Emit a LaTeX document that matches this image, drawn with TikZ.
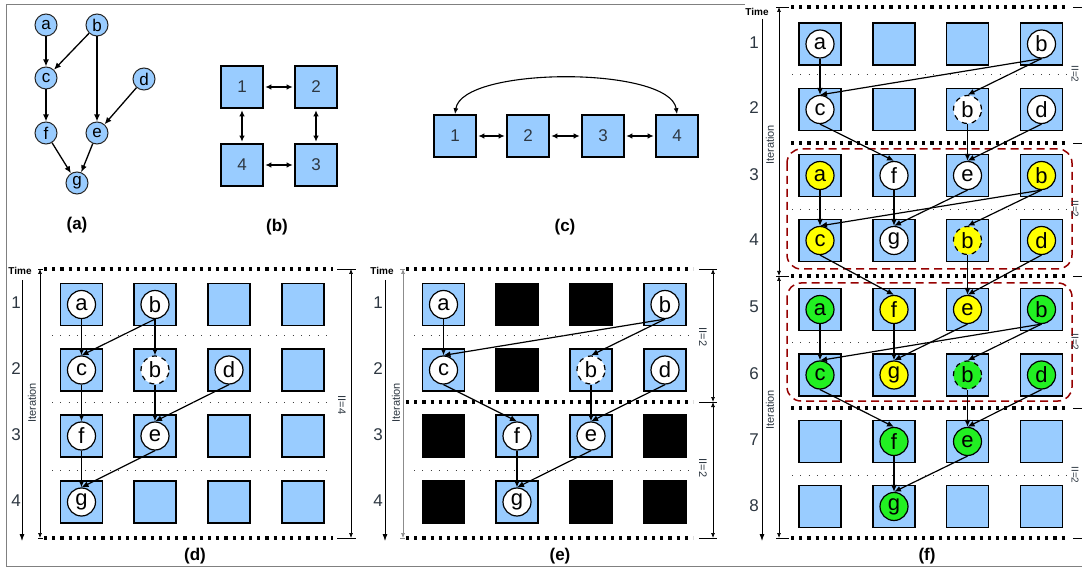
\documentclass[tikz,border=0pt]{standalone}
\usepackage{fontspec}
\setmainfont{Liberation Sans}
\usetikzlibrary{arrows.meta}
\definecolor{sqblue}{RGB}{153,204,255}
\definecolor{nyellow}{RGB}{255,255,0}
\definecolor{ngreen}{RGB}{34,240,34}
\definecolor{boxred}{RGB}{150,0,0}
\definecolor{framegray}{RGB}{128,128,128}
\definecolor{numgray}{RGB}{45,55,65}
\begin{document}
\begin{tikzpicture}[x=1pt,y=-1pt,
  sq/.style={draw=black,line width=1.6pt,fill=sqblue,minimum size=42pt,inner sep=0pt},
  blk/.style={fill=black,minimum size=43.6pt,inner sep=0pt},
  op/.style={circle,draw=black,line width=1.2pt,fill=white,minimum size=28pt,inner sep=0pt,font=\fontsize{22}{22}\selectfont},
  opd/.style={op,dash pattern=on 5pt off 5pt},
  gn/.style={circle,draw=black!85,line width=1pt,fill=sqblue,minimum size=22pt,inner sep=0pt,font=\fontsize{17}{17}\selectfont},
  pe/.style={draw=black,line width=1.6pt,fill=sqblue,minimum size=42pt,inner sep=0pt,text=numgray,font=\fontsize{17}{17}\selectfont},
  arr/.style={-{Latex[length=7pt,width=6pt]},line width=1.2pt},
  dbl/.style={{Latex[length=6pt,width=5.5pt]}-{Latex[length=6pt,width=5.5pt]},line width=1.6pt,shorten >=1.5pt,shorten <=1.5pt},
  arc2/.style={{Latex[length=6pt,width=5pt]}-{Latex[length=6pt,width=5pt]},line width=1.1pt},
  thickdot/.style={line width=3.2pt,dash pattern=on 3.2pt off 5pt},
  thindot/.style={line width=0.8pt,dash pattern=on 0.8pt off 7.5pt,black!75},
  tick/.style={line width=0.7pt},
  dimarr/.style={{Latex[length=5pt,width=4pt]}-{Latex[length=5pt,width=4pt]},line width=0.7pt},
  timearr/.style={-{Latex[length=7pt,width=5pt]},line width=0.8pt},
  lbl/.style={font=\bfseries\fontsize{17}{17}\selectfont},
  timelbl/.style={font=\bfseries\fontsize{10}{10}\selectfont},
  rowlbl/.style={font=\fontsize{17}{17}\selectfont,text=numgray},
  sidelbl/.style={font=\fontsize{11}{11}\selectfont,text=numgray,rotate=90},
  iilbl/.style={font=\fontsize{11}{11}\selectfont,text=numgray,rotate=-90},
  redbox/.style={draw=boxred,line width=1.5pt,dash pattern=on 8pt off 5pt,rounded corners=14pt}
]
\useasboundingbox (0,0) rectangle (1082,569);
\clip (0,0) rectangle (1082,569);
\fill[white] (0,0) rectangle (1082,569);
% frame
\draw[framegray,line width=1pt] (745,5) -- (6,5) -- (6,566) -- (1082,566);

% ---------------- (a)
\node[gn] (ga) at (46,25) {a};
\node[gn] (gb) at (97,25) {b};
\node[gn] (gc) at (46,78) {c};
\node[gn] (gd) at (144,79) {d};
\node[gn] (gf) at (46,133) {f};
\node[gn] (ge) at (97,133) {e};
\node[gn] (gg) at (77,183) {g};
\draw[arr,line width=1.3pt] (ga) -- (gc);
\draw[arr,line width=1.3pt] (gb) -- (gc);
\draw[arr,line width=1.3pt] (gb) -- (ge);
\draw[arr,line width=1.3pt] (gd) -- (ge);
\draw[arr,line width=1.3pt] (gc) -- (gf);
\draw[arr,line width=1.3pt] (gf) -- (gg);
\draw[arr,line width=1.3pt] (ge) -- (gg);
\node[lbl] (la) at (77,225) {(a)};

% ---------------- (b)
\node[pe] (b1) at (242,87) {1};
\node[pe] (b2) at (316,87) {2};
\node[pe] (b3) at (316,165) {3};
\node[pe] (b4) at (242,165) {4};
\draw[dbl] (b1) -- (b2);
\draw[dbl] (b2) -- (b3);
\draw[dbl] (b3) -- (b4);
\draw[dbl] (b4) -- (b1);
\node[lbl] (lb) at (277,227) {(b)};

% ---------------- (c)
\node[pe] (c1) at (455,136) {1};
\node[pe] (c2) at (528,136) {2};
\node[pe] (c3) at (603,136) {3};
\node[pe] (c4) at (677,136) {4};
\draw[dbl] (c1) -- (c2);
\draw[dbl] (c2) -- (c3);
\draw[dbl] (c3) -- (c4);
\draw[arc2] (c1.north) .. controls (462,66) and (670,66) .. (c4.north);
\node[lbl] (lc) at (565,227) {(c)};

% ---------------- (d)
\foreach \c/\x in {1/81.5,2/155,3/229,4/303}{
  \foreach \r/\y in {1/304.5,2/370,3/436,4/502}{
    \node[sq] (d\r-\c) at (\x,\y) {};}}
\node[op] (da) at (d1-1) {a};
\node[op] (db) at (d1-2) {b};
\node[op] (dc) at (d2-1) {c};
\node[opd] (dbb) at (d2-2) {b};
\node[op] (dd) at (d2-3) {d};
\node[op] (df) at (d3-1) {f};
\node[op] (de) at (d3-2) {e};
\node[op] (dg) at (d4-1) {g};
\draw[arr] (da.south) -- (dc.north);
\draw[arr] (db.south) -- (dc.north);
\draw[arr] (db.south) -- (dbb.north);
\draw[arr] (dc.south) -- (df.north);
\draw[arr] (dbb.south) -- (de.north);
\draw[arr] (dd.south) -- (de.north);
\draw[arr] (df.south) -- (dg.north);
\draw[arr] (de.south) -- (dg.north);
\draw[thickdot] (44,269) -- (333,269);
\draw[thickdot] (44,538) -- (333,538);
\foreach \y in {335,402,470}{\draw[thindot] (52,\y) -- (328,\y);}
\draw[tick] (38,269) -- (43,269);
\draw[tick] (38,538) -- (43,538);
\draw[tick] (337,269) -- (356,269);
\draw[tick] (337,538) -- (356,538);
\node[timelbl] (dtime) at (20,271) {Time};
\draw[timearr] (22,280) -- (22,541);
\draw[dimarr] (40,269) -- (40,538);
\draw[dimarr] (351,269) -- (351,538);
\node[sidelbl] (dit) at (32,403) {Iteration};
\node[iilbl] (dii) at (342,405) {II=4};
\foreach \n/\y in {1/303,2/369,3/435,4/501}{\node[rowlbl] (dn\n) at (16,\y) {\n};}
\node[lbl] (ld) at (195,556) {(d)};

% ---------------- (e)
\foreach \c/\x in {1/443.5,2/517,3/591,4/665}{
  \foreach \r/\y in {1/304.5,2/370,3/436,4/502}{
    \node[sq] (e\r-\c) at (\x,\y) {};}}
\foreach \n in {1-2,1-3,2-2,3-1,3-4,4-1,4-3,4-4}{\node[blk] (ek\n) at (e\n) {};}
\node[op] (ea) at (e1-1) {a};
\node[op] (eb) at (e1-4) {b};
\node[op] (ec) at (e2-1) {c};
\node[opd] (ebb) at (e2-3) {b};
\node[op] (ed) at (e2-4) {d};
\node[op] (ef) at (e3-2) {f};
\node[op] (ee) at (e3-3) {e};
\node[op] (eg) at (e4-2) {g};
\draw[arr] (ea.south) -- (ec.north);
\draw[arr] (eb.south) -- (ec.north);
\draw[arr] (eb.south) -- (ebb.north);
\draw[arr] (ec.south) -- (ef.north);
\draw[arr] (ebb.south) -- (ee.north);
\draw[arr] (ed.south) -- (ee.north);
\draw[arr] (ef.south) -- (eg.north);
\draw[arr] (ee.south) -- (eg.north);
\draw[thickdot] (406,269) -- (693,269);
\draw[thickdot] (406,402) -- (693,402);
\draw[thickdot] (406,538) -- (693,538);
\foreach \y in {335,470}{\draw[thindot] (414,\y) -- (690,\y);}
\draw[tick,black!45] (400,269) -- (405,269);
\draw[tick,black!45] (400,538) -- (405,538);
\foreach \y in {269,402,538}{\draw[tick] (699,\y) -- (717,\y);}
\node[timelbl] (etime) at (382,271) {Time};
\draw[timearr] (385,280) -- (385,541);
\draw[dimarr,black!45] (403,269) -- (403,538);
\draw[dimarr] (713,269) -- (713,402);
\draw[dimarr] (713,402) -- (713,538);
\node[sidelbl] (eit) at (396,403) {Iteration};
\node[iilbl] (eii1) at (703,337) {II=2};
\node[iilbl] (eii2) at (703,468) {II=2};
\foreach \n/\y in {1/303,2/369,3/435,4/501}{\node[rowlbl] (en\n) at (378,\y) {\n};}
\node[lbl] (le) at (560,556) {(e)};

% ---------------- (f)
\draw[redbox] (787,149) rectangle (1072,269);
\draw[redbox] (787,283) rectangle (1072,401);
\foreach \c/\x in {1/820,2/894,3/967.5,4/1041.5}{
  \foreach \r/\y in {1/44,2/109.5,3/175.5,4/240.5,5/309.5,6/375,7/441.5,8/506.5}{
    \node[sq] (f\r-\c) at (\x,\y) {};}}
\foreach \p/\o/\col in {w/0/white,y/2/nyellow,g/4/ngreen}{
  \pgfmathtruncatemacro\rA{\o+1}
  \pgfmathtruncatemacro\rB{\o+2}
  \pgfmathtruncatemacro\rC{\o+3}
  \pgfmathtruncatemacro\rD{\o+4}
  \node[op,fill=\col] (f\p a) at (f\rA-1) {a};
  \node[op,fill=\col] (f\p b) at (f\rA-4) {b};
  \node[op,fill=\col] (f\p c) at (f\rB-1) {c};
  \node[opd,fill=\col] (f\p bb) at (f\rB-3) {b};
  \node[op,fill=\col] (f\p d) at (f\rB-4) {d};
  \node[op,fill=\col] (f\p f) at (f\rC-2) {f};
  \node[op,fill=\col] (f\p e) at (f\rC-3) {e};
  \node[op,fill=\col] (f\p g) at (f\rD-2) {g};
  \draw[arr] (f\p a.south) -- (f\p c.north);
  \draw[arr] (f\p b.south) -- (f\p c.north);
  \draw[arr] (f\p b.south) -- (f\p bb.north);
  \draw[arr] (f\p c.south) -- (f\p f.north);
  \draw[arr] (f\p bb.south) -- (f\p e.north);
  \draw[arr] (f\p d.south) -- (f\p e.north);
  \draw[arr] (f\p f.south) -- (f\p g.north);
  \draw[arr] (f\p e.south) -- (f\p g.north);
}
\foreach \y in {7,143,276,408,538}{
  \draw[thickdot] (791,\y) -- (1068,\y);
  \draw[tick] (1073,\y) -- (1090,\y);}
\foreach \y in {74,209,342,475}{\draw[thindot] (792,\y) -- (1068,\y);}
\draw[tick] (776,7) -- (789,7);
\draw[tick] (776,276) -- (789,276);
\draw[tick] (776,538) -- (789,538);
\node[timelbl] (ftime) at (757,12) {Time};
\draw[timearr] (762,19) -- (762,541);
\draw[dimarr] (779,7) -- (779,276);
\draw[dimarr] (779,276) -- (779,538);
\node[sidelbl] (fit1) at (770,145) {Iteration};
\node[sidelbl] (fit2) at (770,410) {Iteration};
\foreach \y in {74,209,342,475}{\node[iilbl,font=\fontsize{10}{10}\selectfont] at (1075,\y) {II=2};}
\foreach \n/\y in {1/43,2/108,3/175,4/240,5/307,6/374,7/440,8/506}{\node[rowlbl] (fn\n) at (754,\y) {\n};}
\node[lbl] (lf) at (927,556) {(f)};
\end{tikzpicture}
\end{document}
